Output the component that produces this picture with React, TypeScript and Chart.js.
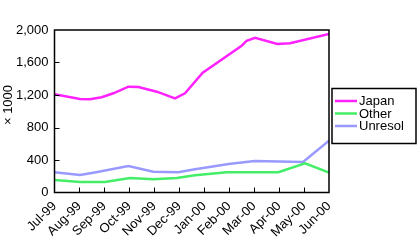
import { useEffect, useRef } from 'react';
import { Chart, registerables } from 'chart.js';

Chart.register(...registerables);

const months = ['Jul-99', 'Aug-99', 'Sep-99', 'Oct-99', 'Nov-99', 'Dec-99', 'Jan-00', 'Feb-00', 'Mar-00', 'Apr-00', 'May-00', 'Jun-00'];
const yTicks = [0, 400, 800, 1200, 1600, 2000];

const japanX = [0, 1.02, 1.42, 1.89, 2.36, 2.96, 3.36, 4.1, 4.83, 5.23, 5.94, 7.5, 7.7, 8.04, 8.93, 9.44, 11];
const japanY = [1209, 1151, 1147, 1172, 1221, 1302, 1298, 1241, 1159, 1221, 1474, 1807, 1868, 1905, 1828, 1836, 1951];

const otherX = [0, 1.02, 2.02, 3.03, 3.96, 4.9, 5.63, 6.9, 8.97, 10.04, 11];
const otherY = [154, 129, 129, 178, 162, 178, 212, 249, 249, 359, 246];

const unresolX = [0, 1.02, 1.56, 2.96, 3.96, 4.96, 5.63, 6.98, 8.02, 9.96, 11];
const unresolY = [249, 215, 244, 326, 256, 249, 286, 351, 388, 375, 638];

const FONT = '"Liberation Sans", Arial, Helvetica, sans-serif';

const pts = (xs: number[], ys: number[]) => xs.map((x, i) => ({ x, y: ys[i] }));

const decor = {
  id: 'decor',
  afterDraw(chart: any) {
    const { ctx, chartArea } = chart;
    const { left, top, right, bottom } = chartArea;
    ctx.save();
    ctx.strokeStyle = '#000';
    ctx.lineWidth = 1.5;
    ctx.strokeRect(left, top, right - left, bottom - top);
    // inner tick marks
    ctx.lineWidth = 1;
    const xs = chart.scales.x;
    const ys = chart.scales.y;
    ctx.beginPath();
    for (let i = 1; i < months.length - 1; i++) {
      const px = Math.round(xs.getPixelForValue(i)) + 0.5;
      ctx.moveTo(px, bottom);
      ctx.lineTo(px, bottom - 5);
    }
    for (let i = 1; i < yTicks.length - 1; i++) {
      const py = Math.round(ys.getPixelForValue(yTicks[i])) + 0.5;
      ctx.moveTo(left, py);
      ctx.lineTo(left + 5, py);
    }
    ctx.stroke();
    // y axis title
    ctx.fillStyle = '#000';
    ctx.font = `13px ${FONT}`;
    ctx.translate(12, 105);
    ctx.rotate(-Math.PI / 2);
    ctx.textAlign = 'center';
    ctx.textBaseline = 'alphabetic';
    ctx.fillText('\u00d7 1000', 0, 0);
    ctx.restore();
    // legend
    ctx.save();
    const bx = right + 3, by = 88.5, bw = 84, bh = 55;
    ctx.fillStyle = '#fff';
    ctx.fillRect(bx, by, bw, bh);
    ctx.strokeStyle = '#000';
    ctx.lineWidth = 1.5;
    ctx.strokeRect(bx, by, bw, bh);
    ctx.font = `13px ${FONT}`;
    ctx.textBaseline = 'middle';
    ctx.textAlign = 'left';
    chart.data.datasets.forEach((ds: any, i: number) => {
      const yy = 101 + i * 12.5;
      ctx.strokeStyle = ds.borderColor;
      ctx.lineWidth = 2.5;
      ctx.beginPath();
      ctx.moveTo(bx + 3, yy);
      ctx.lineTo(bx + 25, yy);
      ctx.stroke();
      ctx.fillStyle = '#000';
      ctx.fillText(ds.label, bx + 27, yy + 0.5);
    });
    ctx.restore();
  },
};

export default function App() {
  const ref = useRef<HTMLCanvasElement>(null);
  useEffect(() => {
    const prevMargin = document.body.style.margin;
    document.body.style.margin = '0';
    const chart = new Chart(ref.current!, {
      type: 'line',
      data: {
        datasets: [
          { label: 'Japan', data: pts(japanX, japanY), borderColor: '#ff22ff', borderWidth: 2.5, pointRadius: 0, tension: 0 },
          { label: 'Other', data: pts(otherX, otherY), borderColor: '#44ee66', borderWidth: 2.5, pointRadius: 0, tension: 0 },
          { label: 'Unresol', data: pts(unresolX, unresolY), borderColor: '#9999ff', borderWidth: 2.5, pointRadius: 0, tension: 0 },
        ],
      },
      options: {
        responsive: false,
        devicePixelRatio: 1,
        animation: false,
        layout: { padding: { left: 0, top: 30, right: 91, bottom: 0 } },
        plugins: { legend: { display: false }, tooltip: { enabled: false } },
        scales: {
          x: {
            type: 'linear',
            min: 0,
            max: 11,
            grid: { display: false, drawTicks: false, tickLength: 0 },
            border: { display: false },
            afterBuildTicks: (s: any) => { s.ticks = months.map((_, i) => ({ value: i })); },
            afterFit: (s: any) => { s.height = 57.5; },
            ticks: {
              color: '#000',
              font: { family: FONT, size: 13 },
              minRotation: 45,
              maxRotation: 45,
              padding: 6,
              autoSkip: false,
              callback: (v: any) => months[Math.round(Number(v))] ?? '',
            },
          },
          y: {
            min: 0,
            max: 2000,
            grid: { display: false, drawTicks: false, tickLength: 0 },
            border: { display: false },
            afterBuildTicks: (s: any) => { s.ticks = yTicks.map((v) => ({ value: v })); },
            afterFit: (s: any) => { s.width = 54.5; },
            ticks: {
              color: '#000',
              font: { family: FONT, size: 13 },
              padding: 6,
              callback: (v: any) => Number(v).toLocaleString('en-US'),
            },
          },
        },
      },
      plugins: [decor],
    });
    return () => {
      chart.destroy();
      document.body.style.margin = prevMargin;
    };
  }, []);
  return (
    <div style={{ position: 'absolute', left: 0, top: 0, width: 420, height: 250, background: '#fff' }}>
      <canvas ref={ref} width={420} height={250} />
    </div>
  );
}
